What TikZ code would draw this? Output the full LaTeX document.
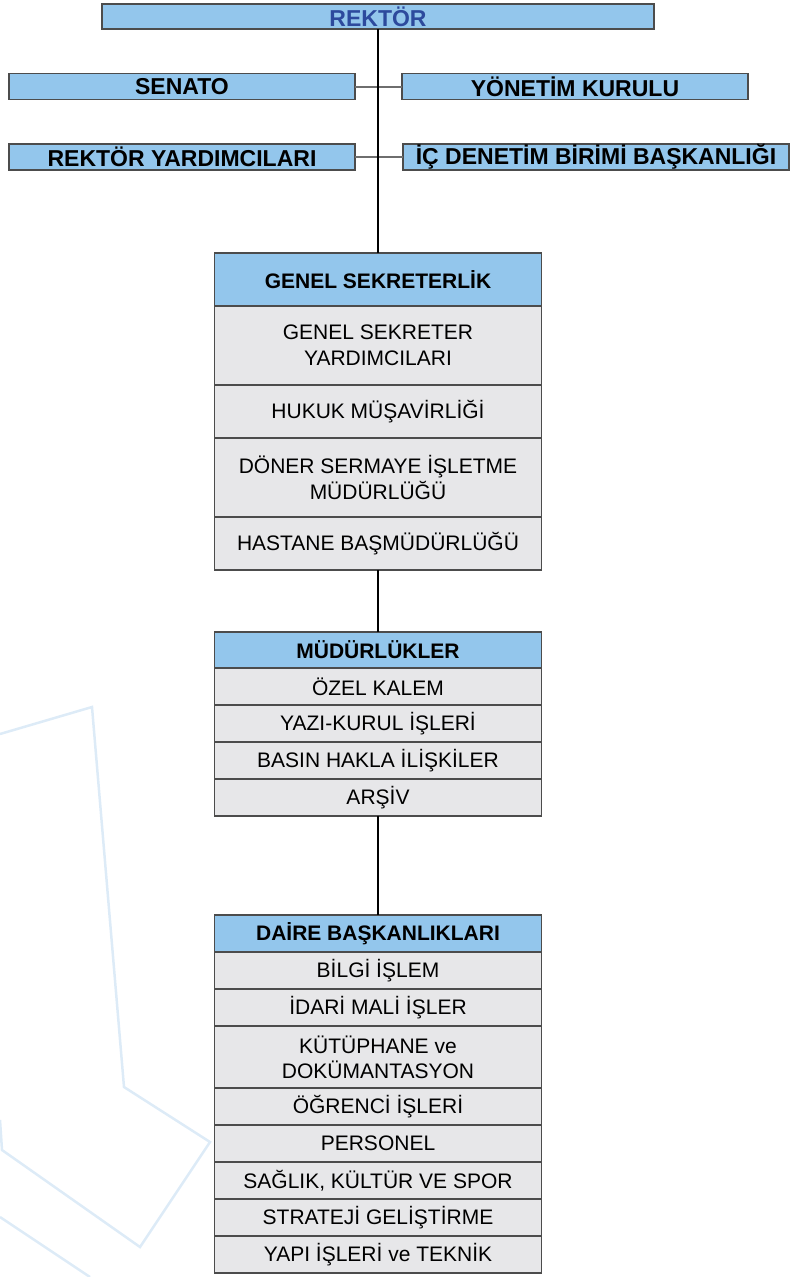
\documentclass[tikz,border=0pt]{standalone}
\usepackage{fontspec}
\setmainfont{Liberation Sans}
\usepackage{tikz}
\usetikzlibrary{positioning}
\definecolor{headblue}{HTML}{93C6EC}
\definecolor{rowgray}{HTML}{E7E7E9}
\definecolor{rekblue}{HTML}{2D4A9D}
\definecolor{wmblue}{HTML}{DDEBF7}
\definecolor{linkgray}{HTML}{6E6E6E}

\begin{document}
\begin{tikzpicture}[x=1pt, y=-1pt, node distance=0pt]
\tikzstyle{topbox}=[draw=black!70, fill=headblue, line width=1.2pt, minimum height=26pt, inner sep=0pt, outer sep=0pt, font=\fontsize{23}{26}\selectfont\bfseries]
\tikzstyle{headbox}=[draw=black!70, fill=headblue, line width=1.2pt, minimum width=327pt, inner sep=0pt, outer sep=0pt, font=\fontsize{21}{25}\selectfont\bfseries]
\tikzstyle{rowbox}=[headbox, fill=rowgray, font=\fontsize{21}{26}\selectfont, align=center, minimum height=37pt]
\tikzstyle{link}=[color=linkgray, line width=2pt]
\useasboundingbox (0,0) rectangle (790,1277);

% watermark
\draw[wmblue, line width=2.5pt] (0,734) -- (92,707) -- (124,1087) -- (210,1142) -- (140,1247) -- (2,1150) -- (0,1120);
\draw[wmblue, line width=2.5pt] (0,1217) -- (90,1277);

\node[topbox, minimum width=552pt, minimum height=25pt, text=rekblue] (rek) at (378,16.5) {REKTÖR};
\node[topbox, minimum width=346pt] (sen) at (182,86.5) {SENATO};
\node[topbox, minimum width=346pt] (yon) at (575,86.5) {YÖNETİM KURULU};
\node[topbox, minimum width=346pt] (ryd) at (182,157) {REKTÖR YARDIMCILARI};
\node[topbox, minimum width=386pt] (ic) at (596,157) {İÇ DENETİM BİRİMİ BAŞKANLIĞI};

\node[headbox, minimum height=53pt] (gs) at (378,279.5) {GENEL SEKRETERLİK};
\node[rowbox, minimum height=79pt, below=of gs] (gs1) {GENEL SEKRETER\\YARDIMCILARI};
\node[rowbox, minimum height=53pt, below=of gs1] (gs2) {HUKUK MÜŞAVİRLİĞİ};
\node[rowbox, minimum height=79pt, below=of gs2] (gs3) {DÖNER SERMAYE İŞLETME\\MÜDÜRLÜĞÜ};
\node[rowbox, minimum height=53pt, below=of gs3] (gs4) {HASTANE BAŞMÜDÜRLÜĞÜ};

\node[headbox, minimum height=36pt] (mud) at (378,650) {MÜDÜRLÜKLER};
\node[rowbox, below=of mud] (mud1) {ÖZEL KALEM};
\node[rowbox, below=of mud1] (mud2) {YAZI-KURUL İŞLERİ};
\node[rowbox, below=of mud2] (mud3) {BASIN HAKLA İLİŞKİLER};
\node[rowbox, below=of mud3] (mud4) {ARŞİV};

\node[headbox, minimum height=37pt] (dai) at (378,933.5) {DAİRE BAŞKANLIKLARI};
\node[rowbox, below=of dai] (dai1) {BİLGİ İŞLEM};
\node[rowbox, below=of dai1] (dai2) {İDARİ MALİ İŞLER};
\node[rowbox, minimum height=62pt, font=\fontsize{21}{25}\selectfont, below=of dai2] (dai3) {KÜTÜPHANE ve\\DOKÜMANTASYON};
\node[rowbox, below=of dai3] (dai4) {ÖĞRENCİ İŞLERİ};
\node[rowbox, below=of dai4] (dai5) {PERSONEL};
\node[rowbox, below=of dai5] (dai6) {SAĞLIK, KÜLTÜR VE SPOR};
\node[rowbox, below=of dai6] (dai7) {STRATEJİ GELİŞTİRME};
\node[rowbox, below=of dai7] (dai8) {YAPI İŞLERİ ve TEKNİK};

\path[link]
(sen) edge (yon)
(ryd) edge (ic);
\path[line width=1.2pt]
(rek) edge (gs)
(gs4) edge (mud)
(mud4) edge (dai);
\end{tikzpicture}
\end{document}
